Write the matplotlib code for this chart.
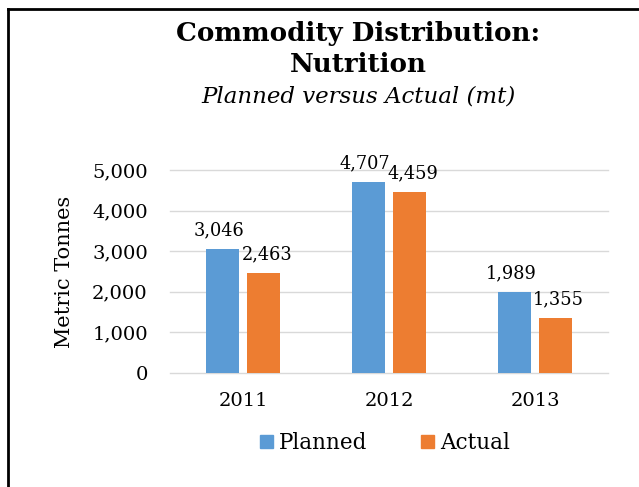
import matplotlib.pyplot as plt
import matplotlib.ticker as mticker
from matplotlib.patches import Patch
from matplotlib.lines import Line2D
import numpy as np

years = ["2011", "2012", "2013"]
planned = [3046, 4707, 1989]
actual = [2463, 4459, 1355]

plt.rcParams["font.family"] = "DejaVu Serif"

fig = plt.figure(figsize=(6.39, 4.87), dpi=100)
# plot area: x 170..608, y 170..373 (pixels)
ax = fig.add_axes([170 / 639, 1 - 373 / 487, 438 / 639, 203 / 487])

x = np.arange(len(years))
w = 0.226
off = 0.143
b1 = ax.bar(x - off, planned, w, color="#5B9BD5")
b2 = ax.bar(x + off, actual, w, color="#ED7D31")

for rect, v in zip(b1, planned):
    ax.annotate(f"{v:,}", (rect.get_x() + rect.get_width() / 2 - 0.02, v), xytext=(0, 7),
                textcoords="offset points", ha="center", va="bottom", fontsize=12.8)
for rect, v in zip(b2, actual):
    ax.annotate(f"{v:,}", (rect.get_x() + rect.get_width() / 2 + 0.02, v), xytext=(0, 7),
                textcoords="offset points", ha="center", va="bottom", fontsize=12.8)

ax.set_xlim(-0.5, 2.5)
ax.set_ylim(0, 5000)
ax.set_yticks(range(0, 5001, 1000))
ax.yaxis.set_major_formatter(mticker.FuncFormatter(lambda v, p: f"{int(v):,}"))
ax.set_xticks(x)
ax.set_xticklabels(years)
ax.tick_params(length=0, labelsize=14)
ax.tick_params(axis="y", pad=16)
ax.tick_params(axis="x", pad=14)
ax.yaxis.grid(True, color="#D9D9D9", linewidth=1.0, clip_on=False)
ax.set_axisbelow(True)
for s in ax.spines.values():
    s.set_visible(False)
ax.set_ylabel("Metric Tonnes", fontsize=15, labelpad=13)

fig.text(358 / 639, 1 - 33 / 487, "Commodity Distribution:", ha="center", va="center",
         fontsize=18.8, fontweight="bold")
fig.text(358 / 639, 1 - 64 / 487, "Nutrition", ha="center", va="center",
         fontsize=18.8, fontweight="bold")
fig.text(358 / 639, 1 - 97 / 487, "Planned versus Actual (mt)", ha="center", va="center",
         fontsize=16.5, style="italic")

handles = [Patch(color="#5B9BD5"), Patch(color="#ED7D31")]
fig.legend(handles, ["Planned", "Actual"], loc="center", bbox_to_anchor=(385 / 639, 1 - 443 / 487),
           ncol=2, frameon=False, fontsize=15.5, handlelength=0.6, handleheight=0.6,
           handletextpad=0.3, columnspacing=2.5)

# border (left and top only visible)
fig.add_artist(Line2D([8 / 639, 8 / 639], [0, 1 - 9 / 487], color="black", linewidth=2, transform=fig.transFigure))
fig.add_artist(Line2D([8 / 639, 1], [1 - 9 / 487, 1 - 9 / 487], color="black", linewidth=2, transform=fig.transFigure))

fig.savefig("out.png", dpi=100)
